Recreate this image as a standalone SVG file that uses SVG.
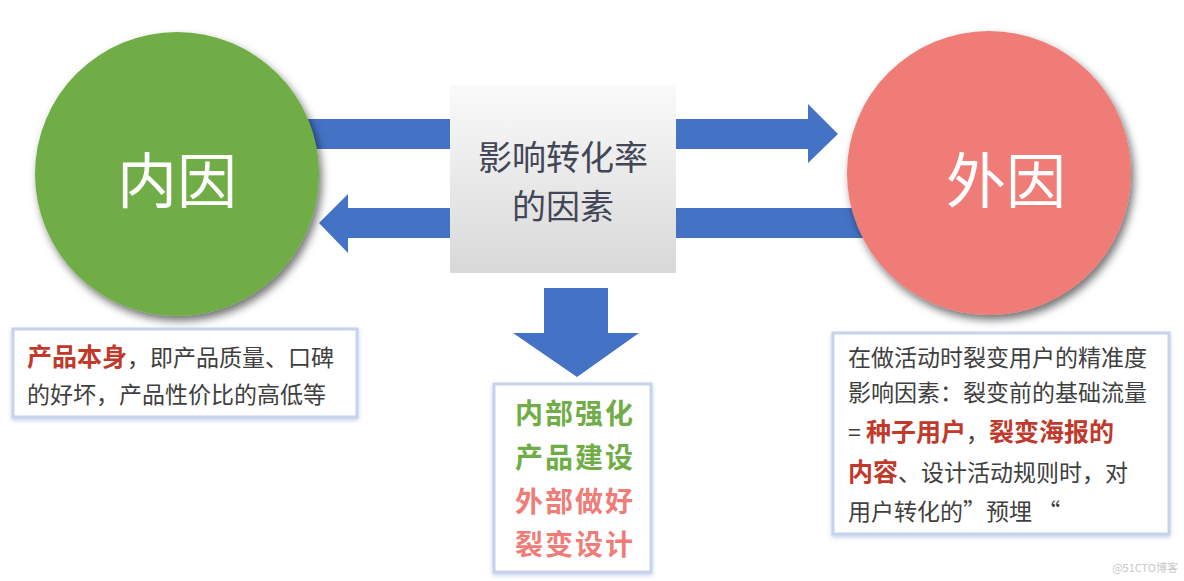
<svg xmlns="http://www.w3.org/2000/svg" width="1184" height="581" viewBox="0 0 1184 581">
<defs>
<style>
.cjk{font-family:"Noto Sans CJK SC","Liberation Sans",sans-serif;}
.body{font-size:23px;fill:#404040;}
.hot{font-size:25px;font-weight:bold;fill:#c0392b;}
.big{font-size:28px;font-weight:bold;letter-spacing:2px;}
.arrow{fill:#4472c4;}
.tbox{fill:#ffffff;stroke:#c5d3ec;stroke-width:3;}
</style>
<linearGradient id="boxgrad" x1="0" y1="0" x2="0" y2="1">
<stop offset="0" stop-color="#fafafa"/>
<stop offset="1" stop-color="#d8d8d8"/>
</linearGradient>
<filter id="circshadow" x="-20%" y="-20%" width="150%" height="150%">
<feDropShadow dx="3" dy="5" stdDeviation="4" flood-color="#000" flood-opacity="0.55"/>
</filter>
<filter id="boxshadow" x="-10%" y="-10%" width="120%" height="125%">
<feDropShadow dx="0" dy="2" stdDeviation="2" flood-color="#8fa8d8" flood-opacity="0.5"/>
</filter>
</defs>
<rect width="1184" height="581" fill="#ffffff"/>

<g id="connectors">
<rect class="arrow" x="300" y="119" width="150" height="30"/>
<polygon class="arrow" points="319,223 348,194 348,208 450,208 450,238 348,238 348,253"/>
<polygon class="arrow" points="676,119 808,119 808,104 838,134 808,163 808,149 676,149"/>
<rect class="arrow" x="676" y="208" width="190" height="30"/>
<polygon class="arrow" points="544,288 608,288 608,333 639,333 577,377 513,333 544,333"/>
</g>

<g id="inner">
<circle cx="177" cy="174" r="142" fill="#70ad47" filter="url(#circshadow)"/>
<text class="cjk" x="177" y="203" font-size="60" fill="#ffffff" text-anchor="middle">内因</text>
</g>

<g id="outer">
<circle cx="989" cy="173" r="142" fill="#f07c78" filter="url(#circshadow)"/>
<text class="cjk" x="1006" y="203" font-size="60" fill="#ffffff" text-anchor="middle">外因</text>
</g>

<g id="center">
<rect x="450" y="85" width="226" height="188" fill="url(#boxgrad)"/>
<text class="cjk" x="563" y="170" font-size="34" fill="#434656" text-anchor="middle">影响转化率</text>
<text class="cjk" x="563" y="219" font-size="34" fill="#434656" text-anchor="middle">的因素</text>
</g>

<g id="inner-note">
<rect class="tbox" x="13" y="329" width="344" height="88" filter="url(#boxshadow)"/>
<text class="cjk" x="27" y="366"><tspan class="hot">产品本身</tspan><tspan class="body">，即产品质量、口碑</tspan></text>
<text class="cjk body" x="27" y="403">的好坏，产品性价比的高低等</text>
</g>

<g id="outer-note">
<rect class="tbox" x="833" y="333" width="336" height="201" filter="url(#boxshadow)"/>
<text class="cjk body" x="848" y="366">在做活动时裂变用户的精准度</text>
<text class="cjk body" x="848" y="401">影响因素：裂变前的基础流量</text>
<text class="cjk" x="848" y="441"><tspan class="body">= </tspan><tspan class="hot" font-size="26">种子用户</tspan><tspan class="body">，</tspan><tspan class="hot" font-size="26">裂变海报的</tspan></text>
<text class="cjk" x="848" y="481"><tspan class="hot" font-size="26">内容</tspan><tspan class="body">、设计活动规则时，对</tspan></text>
<text class="cjk body" x="848" y="520">用户转化的”预埋 “</text>
</g>

<g id="summary">
<rect class="tbox" x="494" y="384" width="157" height="188" filter="url(#boxshadow)"/>
<text class="cjk big" x="575" y="424" fill="#70ad47" text-anchor="middle">内部强化</text>
<text class="cjk big" x="575" y="468" fill="#70ad47" text-anchor="middle">产品建设</text>
<text class="cjk big" x="575" y="512" fill="#f07c78" text-anchor="middle">外部做好</text>
<text class="cjk big" x="575" y="555" fill="#f07c78" text-anchor="middle">裂变设计</text>
</g>

<text class="cjk" x="1178" y="572" font-size="11" fill="#c8c8c8" text-anchor="end">@51CTO博客</text>
</svg>
